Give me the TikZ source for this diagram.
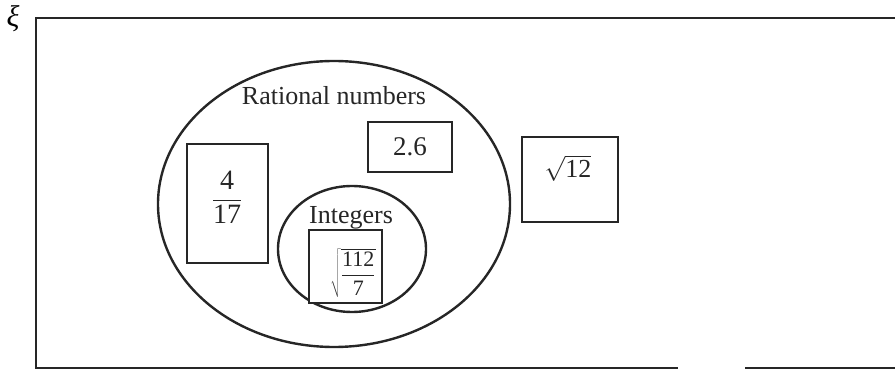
\documentclass[tikz,border=0pt]{standalone}
\usepackage{fontspec}
\setmainfont{Liberation Serif}
\usetikzlibrary{shapes.geometric}
\tikzset{
  frameline/.style={line width=2.6pt, black!85},
  setoval/.style={ellipse, draw, line width=2.4pt, black!85, inner sep=0pt},
  numbox/.style={draw, line width=1.8pt, black!85, inner sep=0pt},
  lbl/.style={font=\fontsize{26}{30}\selectfont, inner sep=0pt, text=black!85},
}
\begin{document}
\begin{tikzpicture}[x=1pt,y=-1pt]
\useasboundingbox (0,0) rectangle (895,371);
% universal set frame
\coordinate (tr) at (895,18);
\coordinate (tl) at (36,18);
\coordinate (bl) at (36,368);
\coordinate (gapL) at (678,368);
\coordinate (gapR) at (745,368);
\coordinate (br) at (895,368);
\draw[frameline] (tr) -- (tl) -- (bl) -- (gapL);
\draw[frameline] (gapR) -- (br);
\node[font=\fontsize{30}{34}\selectfont\itshape, inner sep=0pt] (xi) at (13,19) {ξ};
% rational numbers
\node[setoval, minimum width=352pt, minimum height=286pt] (rat) at (334,204) {};
\node[lbl] (ratl) at (334,96) {Rational numbers};
% boxes
\node[numbox, minimum width=81pt, minimum height=119pt] (b417) at (227.5,203.5) {};
\node[lbl, font=\fontsize{28}{32}\selectfont] (f417) at (227,197) {$\displaystyle\frac{\hbox{4}}{\hbox{17}}$};
\node[numbox, minimum width=84pt, minimum height=50pt] (b26) at (410,147) {};
\node[lbl, font=\fontsize{27}{30}\selectfont] (t26) at (b26.center) {2.6};
\node[numbox, minimum width=96pt, minimum height=85pt] (b12) at (570,179.5) {};
\node[lbl, font=\fontsize{26}{30}\selectfont] (t12) at (568,168) {$\sqrt{\hbox{12}}$};
% integers
\node[setoval, minimum width=148pt, minimum height=126pt] (int) at (352,249) {};
\node[numbox, minimum width=73pt, minimum height=73pt, fill=white] (b112) at (345.5,266.5) {};
\node[lbl, font=\fontsize{22}{25}\selectfont] (t112) at (353,273) {$\sqrt{\displaystyle\frac{\hbox{112}}{\hbox{7}}}$};
\node[lbl] (intl) at (351,218) {Integers};
\end{tikzpicture}
\end{document}
